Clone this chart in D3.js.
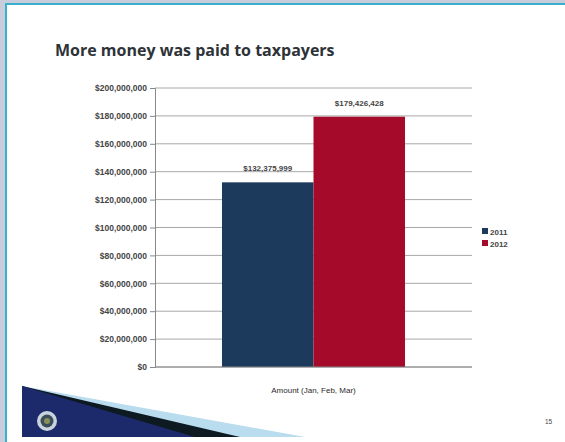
<!DOCTYPE html>
<html>
<head>
<meta charset="utf-8">
<script src="https://cdn.jsdelivr.net/npm/d3@7"></script>
<style>
  body { margin: 0; background: #c9cfdc; }
  svg { display: block; }
</style>
</head>
<body>
<div id="chart"></div>
<script>
const categories = ["Amount (Jan, Feb, Mar)"];
const seriesNames = ["2011", "2012"];
const values2011 = [132375999];
const values2012 = [179426428];
const seriesColors = ["#1b3a5c", "#a50a2a"];
const yTicks = [0, 20000000, 40000000, 60000000, 80000000, 100000000,
                120000000, 140000000, 160000000, 180000000, 200000000];

const W = 565, H = 442;
const svg = d3.select("#chart").append("svg").attr("width", W).attr("height", H);

// slide background with teal border
svg.append("rect").attr("x", 0).attr("y", 0).attr("width", W).attr("height", H).attr("fill", "#c7cddb");
svg.append("rect").attr("x", 6).attr("y", 4).attr("width", W).attr("height", H)
  .attr("fill", "#fff").attr("stroke", "#3ab0cc").attr("stroke-width", 2);

svg.append("text").attr("x", 55).attr("y", 56)
  .style("font-family", "'Open Sans', sans-serif").style("font-weight", "bold")
  .style("font-size", "16px").attr("fill", "#2e3338")
  .text("More money was paid to taxpayers");

const margin = {left: 155, top: 88, right: 472, bottom: 367};

const x0 = d3.scaleBand().domain(categories).range([margin.left, margin.right]).paddingInner(0).paddingOuter(0.366);
const x1 = d3.scaleBand().domain(seriesNames).range([0, x0.bandwidth()]);
const y = d3.scaleLinear().domain([0, 200000000]).range([margin.bottom, margin.top]);

const fmt = d3.format("$,");
const g = svg.append("g");

// gridlines
g.append("g").selectAll("line").data(yTicks).enter().append("line")
  .attr("x1", margin.left).attr("x2", margin.right)
  .attr("y1", d => y(d)).attr("y2", d => y(d))
  .attr("stroke", "#a8a8a8").attr("stroke-width", 1);

// y axis
const yAxis = g.append("g").attr("transform", `translate(${margin.left},0)`)
  .call(d3.axisLeft(y).tickValues(yTicks).tickFormat(fmt).tickSize(5).tickPadding(3));
yAxis.select(".domain").attr("stroke", "#888");
yAxis.selectAll(".tick line").attr("stroke", "#888");
yAxis.selectAll("text").style("font-family", "'Liberation Sans', sans-serif")
  .style("font-size", "8.5px").style("font-weight", "bold").attr("fill", "#444");

const rows = categories.map((c, i) => ({cat: c, vals: [values2011[i], values2012[i]]}));

const bars = g.selectAll(".grp").data(rows).enter().append("g")
  .attr("transform", d => `translate(${x0(d.cat)},0)`);
bars.selectAll("rect").data(d => d.vals.map((v, j) => ({s: seriesNames[j], v, j}))).enter().append("rect")
  .attr("x", d => x1(d.s)).attr("width", x1.bandwidth())
  .attr("y", d => y(d.v)).attr("height", d => y(0) - y(d.v))
  .attr("fill", d => seriesColors[d.j]);
bars.selectAll(".lbl").data(d => d.vals.map((v, j) => ({s: seriesNames[j], v, j}))).enter().append("text")
  .attr("x", d => x1(d.s) + x1.bandwidth() / 2).attr("y", d => y(d.v) - 11)
  .attr("text-anchor", "middle")
  .style("font-family", "'Liberation Sans', sans-serif").style("font-size", "8px").style("font-weight", "bold")
  .attr("fill", "#444").text(d => fmt(d.v));

// x axis line + label
g.append("line").attr("x1", margin.left).attr("x2", margin.right)
  .attr("y1", y(0)).attr("y2", y(0)).attr("stroke", "#888");
g.selectAll(".xl").data(categories).enter().append("text")
  .attr("x", d => x0(d) + x0.bandwidth() / 2).attr("y", 393)
  .attr("text-anchor", "middle")
  .style("font-family", "'Liberation Sans', sans-serif").style("font-size", "8px")
  .style("fill", "#2a2a2a").text(d => d);

// legend
const leg = svg.append("g").attr("transform", "translate(482,228)");
seriesNames.forEach((s, i) => {
  leg.append("rect").attr("x", 0).attr("y", i * 12).attr("width", 6).attr("height", 6).attr("fill", seriesColors[i]);
  leg.append("text").attr("x", 8).attr("y", i * 12 + 6.5)
    .style("font-family", "'Liberation Sans', sans-serif").style("font-size", "8px").style("font-weight", "bold")
    .attr("fill", "#444").text(s);
});

// bottom banner
svg.append("path").attr("d", "M22,386 L305,437 L22,437 Z").attr("fill", "#b9dcee");
svg.append("path").attr("d", "M22,386 L240,437 L22,437 Z").attr("fill", "#0d1a22");
svg.append("path").attr("d", "M22,386 L195,437 L22,437 Z").attr("fill", "#1c2a6b");
svg.append("circle").attr("cx", 47).attr("cy", 421).attr("r", 10).attr("fill", "#c9d3dc");
svg.append("circle").attr("cx", 47).attr("cy", 421).attr("r", 6.5).attr("fill", "#3a4e5a");
svg.append("circle").attr("cx", 47).attr("cy", 421).attr("r", 3).attr("fill", "#8a8f5a");

svg.append("text").attr("x", 545).attr("y", 424)
  .style("font-family", "'Liberation Sans', sans-serif").style("font-size", "6.5px")
  .attr("fill", "#444").text("15");
</script>
</body>
</html>
